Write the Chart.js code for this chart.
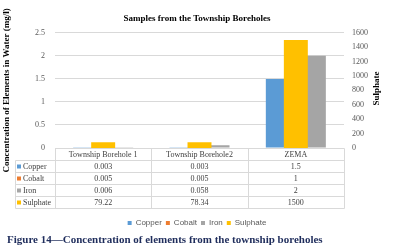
<!DOCTYPE html>
<html>
<head>
<meta charset="utf-8">
<script src="https://cdn.jsdelivr.net/npm/chart.js@4.4.1/dist/chart.umd.min.js"></script>
<style>
  body { margin: 0; background: #fff; }
  #wrap { position: relative; width: 394px; height: 237px; }
  #caption {
    position: absolute; left: 7px; top: 232px;
    font: bold 11px 'Liberation Serif', serif; line-height: 14px;
    color: #1f2d5c; white-space: nowrap;
  }
</style>
</head>
<body>
<div id="wrap"><canvas id="samples_chart"></canvas></div>
<div id="caption">Figure 14—Concentration of elements from the township boreholes</div>
<script>
// === Data ===
const categories = ['Township Borehole 1', 'Township Borehole2', 'ZEMA'];
const copper = [0.003, 0.003, 1.5];
const cobalt = [0.005, 0.005, 1];
const iron = [0.006, 0.058, 2];
const sulphate = [79.22, 78.34, 1500];
const leftTicks = [0, 0.5, 1, 1.5, 2, 2.5];
const rightTicks = [0, 200, 400, 600, 800, 1000, 1200, 1400, 1600];

const seriesNames = ['Copper', 'Cobalt', 'Iron', 'Sulphate'];
const seriesData = [copper, cobalt, iron, sulphate];
const seriesColors = ['#5b9bd5', '#ed7d31', '#a5a5a5', '#ffc000'];

Chart.defaults.font.family = "'Liberation Serif', serif";

// === Data table under the plot + right axis title ===
const tablePlugin = {
  id: 'tablePlugin',
  afterDraw(chart) {
    const { ctx, chartArea } = chart;
    const xs = chart.scales.x;
    const colW = (chartArea.right - chartArea.left) / categories.length;
    const top = Math.round(chartArea.bottom) + 0.5;
    const rowH = 12;
    const labelLeft = 15.5;
    const left = Math.round(chartArea.left) + 0.5;
    const right = Math.round(chartArea.right) + 0.5;
    const bottom = top + rowH * (seriesNames.length + 1);

    ctx.save();
    ctx.strokeStyle = '#d9d9d9';
    ctx.lineWidth = 1;
    ctx.beginPath();
    // horizontal lines
    ctx.moveTo(left, top); ctx.lineTo(right, top);
    for (let r = 1; r <= seriesNames.length + 1; r++) {
      ctx.moveTo(labelLeft, top + r * rowH);
      ctx.lineTo(right, top + r * rowH);
    }
    // vertical lines
    ctx.moveTo(labelLeft, top + rowH); ctx.lineTo(labelLeft, bottom);
    for (let c = 0; c <= categories.length; c++) {
      const xx = Math.round(chartArea.left + c * colW) + 0.5;
      ctx.moveTo(xx, top); ctx.lineTo(xx, bottom);
    }
    ctx.stroke();

    ctx.font = "8px 'Liberation Serif', serif";
    ctx.fillStyle = '#404040';
    ctx.textBaseline = 'middle';
    ctx.textAlign = 'center';
    categories.forEach((cat, i) => {
      const cx = xs.getPixelForValue(i);
      ctx.fillText(cat, cx, top + rowH / 2 + 0.5);
      seriesData.forEach((arr, r) => {
        ctx.fillText(String(arr[i]), cx, top + (r + 1) * rowH + rowH / 2 + 0.5);
      });
    });
    ctx.textAlign = 'left';
    seriesNames.forEach((name, r) => {
      const cy = top + (r + 1) * rowH + rowH / 2;
      ctx.fillStyle = seriesColors[r];
      ctx.fillRect(17, cy - 2, 4, 4);
      ctx.fillStyle = '#404040';
      ctx.fillText(name, 23, cy + 0.5);
    });

    // right axis title, reading bottom to top
    ctx.translate(377, (chartArea.top + chartArea.bottom) / 2 - 2);
    ctx.rotate(-Math.PI / 2);
    ctx.textAlign = 'center';
    ctx.font = "bold 9px 'Liberation Serif', serif";
    ctx.fillStyle = '#000';
    ctx.fillText('Sulphate', 0, 0);
    ctx.restore();
  }
};

// === Chart ===
new Chart(document.getElementById('samples_chart'), {
  type: 'bar',
  data: {
    labels: categories,
    datasets: [
      ...seriesNames.slice(0, 3).map((name, i) => ({
        label: name,
        data: seriesData[i],
        backgroundColor: seriesColors[i],
        yAxisID: 'y',
        categoryPercentage: 0.623,
        barPercentage: 1,
        order: 1
      })),
      {
        label: seriesNames[3],
        data: sulphate,
        backgroundColor: seriesColors[3],
        yAxisID: 'y1',
        grouped: false,
        barPercentage: 0.311,
        order: 0
      }
    ]
  },
  options: {
    responsive: true,
    maintainAspectRatio: false,
    animation: false,
    layout: { padding: { top: 0, bottom: 0, left: 0, right: 0 } },
    plugins: {
      title: {
        display: true,
        text: 'Samples from the Township Boreholes',
        color: '#000',
        font: { size: 9, weight: 'bold' },
        padding: { top: 13, bottom: 9 }
      },
      legend: {
        position: 'bottom',
        labels: {
          boxWidth: 4,
          boxHeight: 4,
          padding: 4,
          color: '#595959',
          font: { family: "'Liberation Sans', sans-serif", size: 8 },
          sort: (a, b) => a.datasetIndex - b.datasetIndex
        }
      },
      tooltip: { enabled: false }
    },
    scales: {
      x: {
        ticks: { display: false },
        grid: { display: false },
        border: { display: false },
        afterFit: scale => { scale.height = 67; }
      },
      y: {
        position: 'left',
        min: 0,
        max: 2.5,
        afterBuildTicks: axis => { axis.ticks = leftTicks.map(v => ({ value: v })); },
        ticks: { padding: 10, color: '#595959', font: { size: 8 }, callback: v => String(v) },
        grid: { color: '#d9d9d9', drawTicks: false },
        border: { display: false },
        title: {
          display: true,
          text: 'Concentration of Elements in Water (mg/l)',
          color: '#000',
          font: { size: 9, weight: 'bold' },
          padding: { top: 1 }
        },
        afterFit: scale => { scale.width = 55; }
      },
      y1: {
        position: 'right',
        min: 0,
        max: 1600,
        afterBuildTicks: axis => { axis.ticks = rightTicks.map(v => ({ value: v })); },
        ticks: { padding: 8, color: '#595959', font: { size: 8 }, callback: v => String(v) },
        grid: { display: false, drawTicks: false },
        border: { display: false },
        afterFit: scale => { scale.width = 50; }
      }
    }
  },
  plugins: [tablePlugin]
});
</script>
</body>
</html>
